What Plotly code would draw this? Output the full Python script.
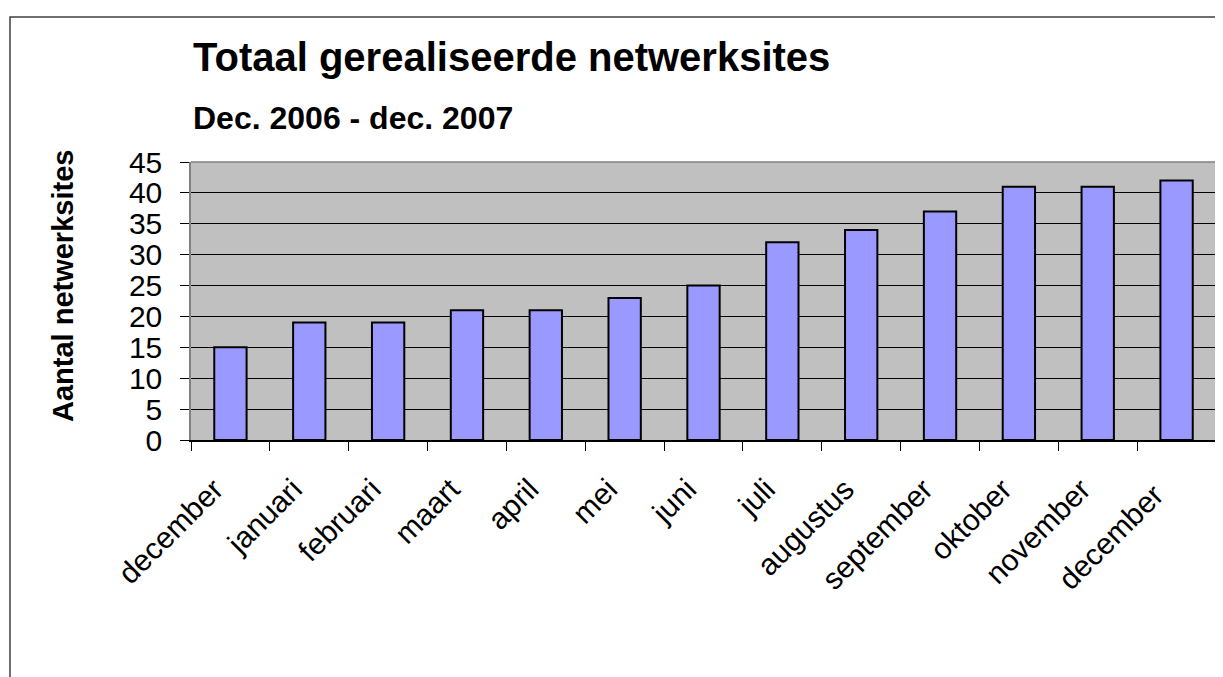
import plotly.graph_objects as go

months = ["december", "januari", "februari", "maart", "april", "mei", "juni",
          "juli", "augustus", "september", "oktober", "november", "december "]
values = [15, 19, 19, 21, 21, 23, 25, 32, 34, 37, 41, 41, 42]
y_ticks = [0, 5, 10, 15, 20, 25, 30, 35, 40, 45]

title_text = "Totaal gerealiseerde netwerksites"
subtitle_text = "Dec. 2006 - dec. 2007"
ytitle_text = "Aantal netwerksites"

OFF = 8  # default page body margin
W, H = 1223 - OFF, 677 - OFF
# plot area in screen pixels
L, R, T, B = 191, 1216, 162, 440
pw, ph = R - L, B - T

def px(x):
    return (x - L) / pw

def py(y):
    return (B - y) / ph

FONT = "Liberation Sans, Arial, sans-serif"

fig = go.Figure()
fig.add_trace(go.Bar(
    x=months, y=values,
    marker=dict(color="#9999FF", line=dict(color="#000000", width=2)),
    width=0.41,
))

fig.update_layout(
    width=W, height=H,
    margin=dict(l=L - OFF, r=W - (R - OFF), t=T - OFF, b=H - (B - OFF), autoexpand=False),
    paper_bgcolor="white",
    plot_bgcolor="#C0C0C0",
    showlegend=False,
    font=dict(family=FONT, color="black"),
    xaxis=dict(
        type="category",
        tickson="boundaries",
        ticks="outside", ticklen=9, tickcolor="#000000", tickwidth=1,
        showgrid=False,
        showline=True, linecolor="#000000", linewidth=1.5,
        tickangle=-45,
        tickfont=dict(size=30, family=FONT),
        ticklabelstandoff=18,
        ticklabelshift=-16,
        range=[-0.5, 12.5],
    ),
    yaxis=dict(
        range=[0, 45],
        tickvals=y_ticks,
        ticks="outside", ticklen=9, tickcolor="#000000",
        showgrid=True, gridcolor="#000000", gridwidth=1.3,
        showline=True, linecolor="#808080", linewidth=1.5, mirror=True,
        tickfont=dict(size=30, family=FONT),
        ticklabelstandoff=12,
        zeroline=False,
    ),
)

# plot-area top border (gray)
fig.add_shape(type="line", xref="paper", yref="paper", x0=0, x1=1, y0=1, y1=1,
              line=dict(color="#808080", width=1.5))
# outer frame
fig.add_shape(type="rect", xref="paper", yref="paper",
              x0=px(10), x1=px(1240), y0=py(17), y1=py(700),
              line=dict(color="#404040", width=1.5), layer="above")

fig.add_annotation(text="<b>" + title_text + "</b>", xref="paper", yref="paper",
                   x=px(191), y=py(57), xanchor="left", yanchor="middle",
                   showarrow=False, font=dict(size=40, family=FONT))
fig.add_annotation(text="<b>" + subtitle_text + "</b>", xref="paper", yref="paper",
                   x=px(191), y=py(118), xanchor="left", yanchor="middle",
                   showarrow=False, font=dict(size=32, family=FONT))
fig.add_annotation(text="<b>" + ytitle_text + "</b>", xref="paper", yref="paper",
                   x=px(63), y=py(286), xanchor="center", yanchor="middle",
                   textangle=-90, showarrow=False, font=dict(size=29, family=FONT))

fig.write_html("out.html")
